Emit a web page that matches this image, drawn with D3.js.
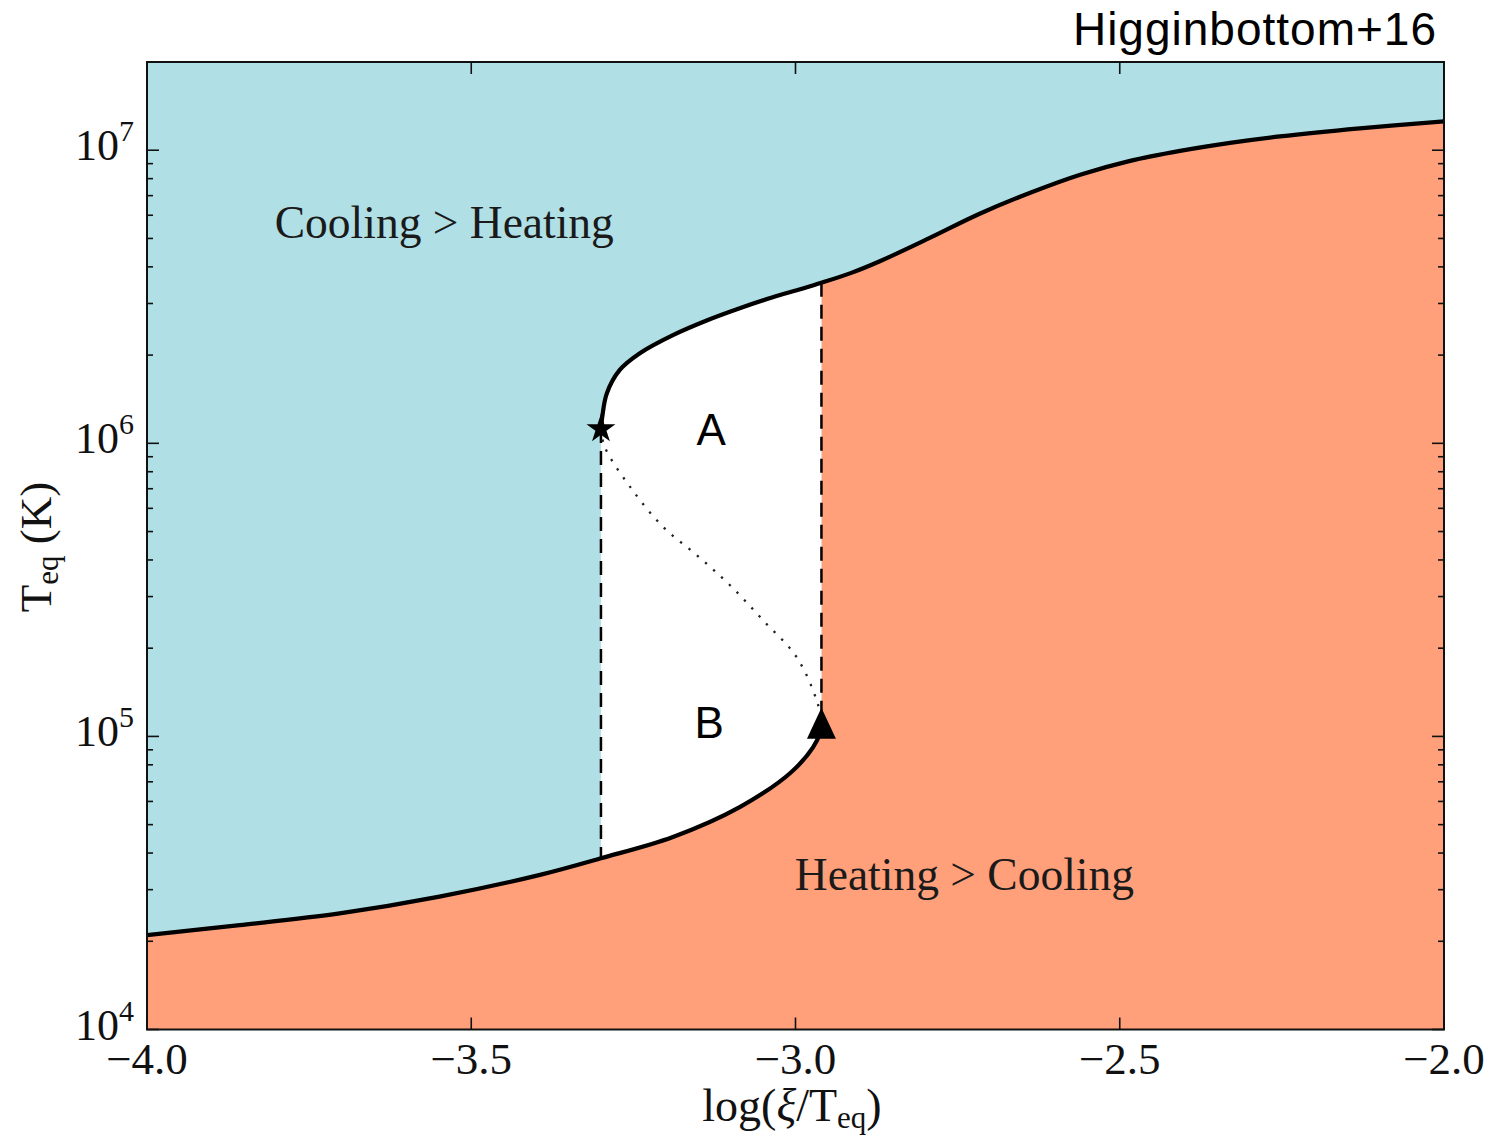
<!DOCTYPE html>
<html>
<head>
<meta charset="utf-8">
<script src="https://cdn.jsdelivr.net/npm/d3@7"></script>
<style>
  html, body { margin: 0; padding: 0; background: #ffffff; }
  svg { display: block; }
</style>
</head>
<body>
<svg id="chart" width="1488" height="1135"></svg>
<script>
// ---------------- DATA ----------------
// Lower (cold) stable branch: log(xi/T) and T_eq [K]
const lowerX = [-4.00, -3.857, -3.703, -3.549, -3.394, -3.30, -3.189, -3.086, -3.008, -2.973, -2.962, -2.96];
const lowerT = [2.10e4, 2.27e4, 2.49e4, 2.84e4, 3.37e4, 3.84e4, 4.54e4, 5.74e4, 7.50e4, 9.18e4, 1.03e5, 1.11e5];
// Middle (unstable) branch, star -> triangle
const midX = [-3.30, -3.294, -3.255, -3.204, -3.152, -3.101, -3.050, -2.998, -2.966, -2.96];
const midT = [1.12e6, 9.7e5, 7.1e5, 5.18e5, 4.15e5, 3.28e5, 2.49e5, 1.86e5, 1.30e5, 1.11e5];
// Upper (hot) stable branch, star -> right edge
const upperX = [-3.30, -3.298, -3.291, -3.271, -3.240, -3.189, -3.136, -3.086, -3.035, -2.998, -2.96,
                -2.914, -2.870, -2.793, -2.716, -2.638, -2.561, -2.484, -2.407, -2.330, -2.253, -2.130, -2.00];
const upperT = [1.12e6, 1.23e6, 1.48e6, 1.78e6, 2.03e6, 2.34e6, 2.63e6, 2.89e6, 3.15e6, 3.33e6, 3.53e6,
                3.815e6, 4.18e6, 5.02e6, 6.07e6, 7.16e6, 8.25e6, 9.20e6, 9.95e6, 1.06e7, 1.115e7, 1.188e7, 1.255e7];
// Turning points (star = upper turn, triangle = lower turn)
const starPoint = { x: -3.30, T: 1.12e6 };
const triPoint = { x: -2.96, T: 1.11e5 };
// Axis ticks
const xTicks = [-4.0, -3.5, -3.0, -2.5, -2.0];
const xTickLabels = ["\u22124.0", "\u22123.5", "\u22123.0", "\u22122.5", "\u22122.0"];
const yMajorTicks = [1e4, 1e5, 1e6, 1e7];
const yTickExponents = ["4", "5", "6", "7"];
const xDomain = [-4.0, -2.0];
const yDomain = [1e4, 2e7];
// Annotations
const regionLabels = [
  { text: "Cooling > Heating", x: -3.803, T: 5.0e6 },
  { text: "Heating > Cooling", x: -3.001, T: 2.99e4 }
];
const stateLabels = [
  { text: "A", x: -3.13, T: 9.9e5 },
  { text: "B", x: -3.133, T: 9.87e4 }
];
const titleText = "Higginbottom+16";

// ---------------- LAYOUT ----------------
const L = 147, R = 1444, T0 = 62, B = 1029.5;
const svg = d3.select("#chart");
const x = d3.scaleLinear().domain(xDomain).range([L, R]);
const y = d3.scaleLog().domain(yDomain).range([B, T0]);

const cyan = "#b0e0e6", salmon = "#ffa07a";
const serif = "'Liberation Serif', 'DejaVu Serif', serif";
const sans = "'Liberation Sans', Arial, sans-serif";

const zip = (xs, ts) => xs.map((v, i) => ({ x: v, T: ts[i] }));
const lower = zip(lowerX, lowerT);
const mid = zip(midX, midT);
const upper = zip(upperX, upperT);

const line = d3.line().x(d => x(d.x)).y(d => y(d.T)).curve(d3.curveCatmullRom.alpha(0.5));

svg.append("defs").append("clipPath").attr("id", "clip")
  .append("rect").attr("x", L).attr("y", T0).attr("width", R - L).attr("height", B - T0);

const g = svg.append("g").attr("clip-path", "url(#clip)");

// Cyan background (cooling > heating)
g.append("rect").attr("x", L).attr("y", T0).attr("width", R - L).attr("height", B - T0).attr("fill", cyan);

// Salmon region: below lower branch up to triangle, right dashed line, below upper branch right of it
const upperRight = upper.filter(d => d.x >= triPoint.x);
const salmonPath = line(lower) + "L" + x(triPoint.x) + "," + y(upperRight[0].T)
  + line(upperRight).replace(/^M/, "L")
  + "L" + x(xDomain[1]) + "," + y(yDomain[0])
  + "L" + x(xDomain[0]) + "," + y(yDomain[0]) + "Z";
g.append("path").attr("d", salmonPath).attr("fill", salmon);

// White region between the dashed lines and the two stable branches
const upperLeft = upper.filter(d => d.x <= triPoint.x);
const lowerMid = lower.filter(d => d.x >= starPoint.x).reverse();
const whitePath = line(upperLeft) + "L" + x(triPoint.x) + "," + y(triPoint.T)
  + line(lowerMid).replace(/^M/, "L")
  + "L" + x(starPoint.x) + "," + y(starPoint.T) + "Z";
g.append("path").attr("d", whitePath).attr("fill", "#ffffff");

// Dashed vertical lines
const lowerAtStar = lower.find(d => d.x === starPoint.x);
const upperAtTri = upperRight[0];
g.append("line")
  .attr("x1", x(starPoint.x)).attr("x2", x(starPoint.x))
  .attr("y1", y(starPoint.T)).attr("y2", y(lowerAtStar.T))
  .attr("stroke", "#000").attr("stroke-width", 2.5).attr("stroke-dasharray", "14,8");
g.append("line")
  .attr("x1", x(triPoint.x)).attr("x2", x(triPoint.x))
  .attr("y1", y(upperAtTri.T)).attr("y2", y(triPoint.T))
  .attr("stroke", "#000").attr("stroke-width", 2.5).attr("stroke-dasharray", "14,8");

// Dotted unstable branch
g.append("path").attr("d", line(mid)).attr("fill", "none")
  .attr("stroke", "#222").attr("stroke-width", 2.3).attr("stroke-dasharray", "2.3,8.5");

// Stable branches
g.append("path").attr("d", line(lower)).attr("fill", "none")
  .attr("stroke", "#000").attr("stroke-width", 4.2).attr("stroke-linejoin", "round");
g.append("path").attr("d", line(upper)).attr("fill", "none")
  .attr("stroke", "#000").attr("stroke-width", 4.2).attr("stroke-linejoin", "round");

// Markers
svg.append("path")
  .attr("d", d3.symbol().type(d3.symbolStar).size(260)())
  .attr("transform", `translate(${x(starPoint.x)},${y(starPoint.T)})`)
  .attr("fill", "#000");
const triHalfW = 14.5, triHalfH = 15.5;
svg.append("path")
  .attr("d", `M0,${-triHalfH}L${-triHalfW},${triHalfH}L${triHalfW},${triHalfH}Z`)
  .attr("transform", `translate(${x(triPoint.x)},${y(triPoint.T)})`)
  .attr("fill", "#000");

// Frame
svg.append("rect").attr("x", L).attr("y", T0).attr("width", R - L).attr("height", B - T0)
  .attr("fill", "none").attr("stroke", "#111").attr("stroke-width", 2);

// Ticks (inward, all four sides)
const tk = svg.append("g").attr("stroke", "#111").attr("stroke-width", 1.6);
xTicks.forEach(v => {
  const px = x(v);
  tk.append("line").attr("x1", px).attr("x2", px).attr("y1", B).attr("y2", B - 12);
  tk.append("line").attr("x1", px).attr("x2", px).attr("y1", T0).attr("y2", T0 + 12);
});
const minorTicks = y.ticks().filter(v => v > yDomain[0] && v <= yDomain[1] && !yMajorTicks.includes(v));
yMajorTicks.forEach(v => {
  const py = y(v);
  tk.append("line").attr("x1", L).attr("x2", L + 12).attr("y1", py).attr("y2", py);
  tk.append("line").attr("x1", R).attr("x2", R - 12).attr("y1", py).attr("y2", py);
});
minorTicks.forEach(v => {
  const py = y(v);
  tk.append("line").attr("x1", L).attr("x2", L + 6).attr("y1", py).attr("y2", py);
  tk.append("line").attr("x1", R).attr("x2", R - 6).attr("y1", py).attr("y2", py);
});

// X tick labels
xTicks.forEach((v, i) => {
  svg.append("text").attr("x", x(v)).attr("y", B + 44)
    .attr("text-anchor", "middle").attr("font-family", serif).attr("font-size", 45)
    .attr("fill", "#111").text(xTickLabels[i]);
});

// Y tick labels: 10^n
yMajorTicks.forEach((v, i) => {
  const t = svg.append("text").attr("x", 134).attr("y", y(v) + 10)
    .attr("text-anchor", "end").attr("font-family", serif).attr("font-size", 44).attr("fill", "#111");
  t.append("tspan").text("10");
  t.append("tspan").attr("font-size", 30).attr("dy", -19).text(yTickExponents[i]);
});

// Axis labels
const xl = svg.append("text").attr("x", 792).attr("y", 1121)
  .attr("text-anchor", "middle").attr("font-family", serif).attr("font-size", 46).attr("fill", "#111");
xl.append("tspan").text("log(");
xl.append("tspan").attr("font-style", "italic").text("\u03BE");
xl.append("tspan").text("/T");
xl.append("tspan").attr("font-size", 31).attr("dy", 7).text("eq");
xl.append("tspan").attr("dy", -7).text(")");

const yl = svg.append("text").attr("transform", "translate(51,547) rotate(-90)")
  .attr("text-anchor", "middle").attr("font-family", serif).attr("font-size", 45).attr("fill", "#111");
yl.append("tspan").text("T");
yl.append("tspan").attr("font-size", 31).attr("dy", 7).text("eq");
yl.append("tspan").attr("dy", -7).text(" (K)");

// Region annotations
regionLabels.forEach(d => {
  svg.append("text").attr("x", x(d.x)).attr("y", y(d.T))
    .attr("font-family", serif).attr("font-size", 45.5).attr("fill", "#1a1a1a").text(d.text);
});
stateLabels.forEach(d => {
  svg.append("text").attr("x", x(d.x)).attr("y", y(d.T)).attr("text-anchor", "middle")
    .attr("font-family", sans).attr("font-size", 44).attr("fill", "#000").text(d.text);
});

// Title
svg.append("text").attr("x", 1437).attr("y", 45).attr("text-anchor", "end")
  .attr("font-family", sans).attr("font-size", 46).attr("letter-spacing", 1)
  .attr("fill", "#000").text(titleText);
</script>
</body>
</html>
